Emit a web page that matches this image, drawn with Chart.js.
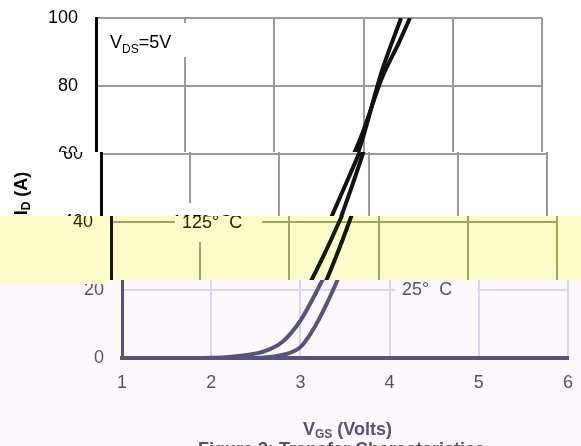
<!DOCTYPE html>
<html><head><meta charset="utf-8">
<script src="https://cdn.jsdelivr.net/npm/chart.js@4.4.1/dist/chart.umd.min.js"></script>
<style>
html,body{margin:0;padding:0;background:#fff;}
#stage{position:relative;width:581px;height:446px;overflow:hidden;background:#fff;}
.band{position:absolute;left:0;width:581px;overflow:hidden;}
.band canvas{position:absolute;}
</style></head><body>
<div id="stage"></div>
<script>
// ---- data ----
const xTicks = [1, 2, 3, 4, 5, 6];
const yTicks = [0, 20, 40, 60, 80, 100];
const vgs125 = [1.0, 1.8, 2.0, 2.2, 2.4, 2.6, 2.8, 3.0, 3.2, 3.4, 3.6, 3.8, 4.0, 4.2, 4.4, 4.52];
const id125  = [0, 0, 0.05, 0.3, 0.9, 2.0, 4.8, 11.0, 20.5, 31, 42.5, 54.5, 67, 82, 93, 100];
const vgs25  = [1.0, 2.0, 2.4, 2.6, 2.8, 2.9, 3.0, 3.1, 3.2, 3.4, 3.6, 3.8, 4.0, 4.2, 4.42];
const id25   = [0, 0, 0.02, 0.15, 0.9, 1.7, 3.2, 6.6, 11.0, 22, 35, 49.5, 65.5, 84, 100];
const seriesNames = ['125° C', '25° C'];

// ---- band styles (the reference is split into shifted, tinted strips) ----
const bands = [
  {top:0,   h:152, shift:0,  bg:'#ffffff', grid:'#9a9a9a', axis:'#000000', line:'#111111', text:'#000000'},
  {top:152, h:64,  shift:5,  bg:'#ffffff', grid:'#9a9a9a', axis:'#000000', line:'#111111', text:'#000000'},
  {top:216, h:64,  shift:15, bg:'#fcfdc8', grid:'#98a860', axis:'#0e1a00', line:'#0e1a00', text:'#1f2600'},
  {top:280, h:166, shift:26, bg:'#fcf8fe', grid:'#d8d4f6', axis:'#57527e', line:'#57527e', text:'#55507a'}
];

const FAM = '"Liberation Sans", Arial, sans-serif';
function rich(ctx, parts, x, y, align){
  let w = 0;
  parts.forEach(p => { ctx.font = (p.b ? 'bold ' : '') + p.s + 'px ' + FAM; w += ctx.measureText(p.t).width; });
  let cx = align === 'center' ? x - w/2 : x;
  ctx.textAlign = 'left'; ctx.textBaseline = 'alphabetic';
  parts.forEach(p => {
    ctx.font = (p.b ? 'bold ' : '') + p.s + 'px ' + FAM;
    ctx.fillText(p.t, cx, y + (p.dy || 0));
    cx += ctx.measureText(p.t).width;
  });
}

const labelPlugin = {
  id: 'labels',
  beforeDatasetsDraw(chart, args, o){
    const ctx = chart.ctx; ctx.save();
    ctx.fillStyle = o.bg;
    ctx.fillRect(104, 23, 83, 34);     // VDS box
    ctx.fillRect(160, 203, 87, 39);    // 125 C box
    ctx.fillRect(369, 270, 82, 35);    // 25 C box
    ctx.restore();
  },
  afterDatasetsDraw(chart, args, o){
    const ctx = chart.ctx; ctx.save();
    ctx.fillStyle = o.text;
    rich(ctx, [{t:'V', s:18}, {t:'DS', s:12, dy:5}, {t:'=5V', s:18}], 110, 48);
    rich(ctx, [{t:seriesNames[0].replace(' ', '  '), s:18}], 167, 228);
    rich(ctx, [{t:seriesNames[1].replace(' ', '  '), s:18}], 376, 295);
    rich(ctx, [{t:'V', s:18, b:true}, {t:'GS', s:12, b:true, dy:3}, {t:' (Volts)', s:18, b:true}], 277, 435);
    rich(ctx, [{t:'Figure 3: Transfer Characteristics', s:18, b:true}], 172, 455);
    ctx.translate(22, 193.5); ctx.rotate(-Math.PI/2);
    rich(ctx, [{t:'I', s:18, b:true}, {t:'D', s:12, b:true, dy:3}, {t:' (A)', s:18, b:true}], 0, 0, 'center');
    ctx.restore();
  }
};

function pts(xs, ys){ return xs.map((x, i) => ({x: x, y: ys[i]})); }

const stage = document.getElementById('stage');
bands.forEach(b => {
  const div = document.createElement('div');
  div.className = 'band';
  div.style.top = b.top + 'px'; div.style.height = b.h + 'px'; div.style.background = b.bg;
  const cv = document.createElement('canvas');
  cv.width = 581; cv.height = 446;
  cv.style.width = '581px'; cv.style.height = '446px';
  cv.style.left = b.shift + 'px'; cv.style.top = (-b.top) + 'px';
  div.appendChild(cv); stage.appendChild(div);

  new Chart(cv, {
    type: 'line',
    data: { datasets: [
      {label: seriesNames[0], data: pts(vgs125, id125), borderColor: b.line, borderWidth: 4, pointRadius: 0, cubicInterpolationMode: 'monotone', fill: false},
      {label: seriesNames[1], data: pts(vgs25, id25), borderColor: b.line, borderWidth: 4, pointRadius: 0, cubicInterpolationMode: 'monotone', fill: false}
    ]},
    options: {
      responsive: false, animation: false, devicePixelRatio: 1,
      layout: {padding: {left: 0, right: 39, top: 18, bottom: 0}},
      plugins: {legend: {display: false}, tooltip: {enabled: false},
        labels: {bg: b.bg, text: b.text}},
      scales: {
        x: {type: 'linear', min: 1, max: 6,
          afterBuildTicks: s => { s.ticks = xTicks.map(v => ({value: v})); },
          afterFit: s => { s.height = 88; },
          grid: {color: b.grid, lineWidth: 2, drawTicks: false},
          border: {color: b.axis, width: 4},
          ticks: {color: b.text, padding: 14, font: {family: FAM, size: 18}}},
        y: {min: 0, max: 100,
          afterBuildTicks: s => { s.ticks = yTicks.map(v => ({value: v})); },
          afterFit: s => { s.width = 96; },
          grid: {color: b.grid, lineWidth: 2, drawTicks: true, tickLength: 18, tickColor: 'rgba(0,0,0,0)'},
          border: {color: b.axis, width: 3},
          ticks: {color: b.text, padding: 0, font: {family: FAM, size: 18}}}
      }
    },
    plugins: [labelPlugin]
  });
});
// small yellow patch at the left under the yellow strip
const patch = document.createElement('div');
patch.style.cssText = 'position:absolute;left:0;top:280px;width:107px;height:4px;background:#fcfdc8;';
stage.appendChild(patch);
</script>
</body></html>
